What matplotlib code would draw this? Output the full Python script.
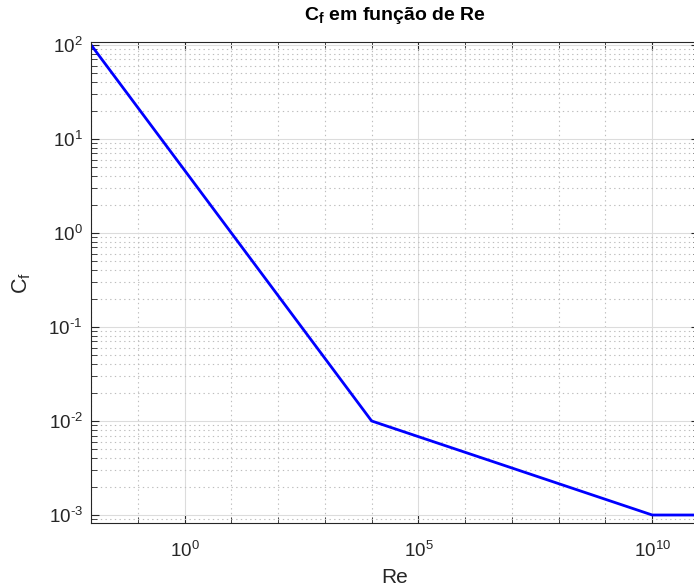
import matplotlib
matplotlib.use("Agg")
import matplotlib.pyplot as plt
import numpy as np
from matplotlib.ticker import FixedLocator, LogLocator, NullFormatter, FuncFormatter

plt.rcParams['font.family'] = ['Liberation Sans', 'DejaVu Sans']
plt.rcParams['mathtext.fontset'] = 'custom'
plt.rcParams['mathtext.rm'] = 'Liberation Sans'
plt.rcParams['mathtext.it'] = 'Liberation Sans'
plt.rcParams['mathtext.bf'] = 'Liberation Sans:bold'
plt.rcParams['mathtext.default'] = 'regular'
plt.rcParams['axes.unicode_minus'] = False

# Piecewise skin-friction coefficient vs Reynolds number (breakpoints)
re_values = [1e-2, 1e4, 1e10, 1e11]
cf_values = [1e2, 1e-2, 1e-3, 1e-3]

x_limits = (1e-2, 1e11)
y_limits = (10 ** -3.085, 10 ** 2.03)
x_major = [1e0, 1e5, 1e10]
x_minor = [10.0 ** k for k in range(-2, 12) if k not in (0, 5, 10)]


def power_label(value, _pos):
    exp = int(round(np.log10(value)))
    sign = r'\text{-}' if exp < 0 else ''
    return r'$10^{%s%d}$' % (sign, abs(exp))


W, H = 694, 587
fig = plt.figure(figsize=(W / 100, H / 100), dpi=100)
ax = fig.add_axes([91 / W, (H - 523) / H, 608 / W, 481 / H])

ax.plot(re_values, cf_values, color=(0, 0, 1), linewidth=2.0, solid_joinstyle='miter')
ax.set_xscale('log')
ax.set_yscale('log')
ax.set_xlim(*x_limits)
ax.set_ylim(*y_limits)

ax.xaxis.set_major_locator(FixedLocator(x_major))
ax.xaxis.set_minor_locator(FixedLocator(x_minor))
ax.xaxis.set_major_formatter(FuncFormatter(power_label))
ax.xaxis.set_minor_formatter(NullFormatter())
ax.yaxis.set_major_locator(LogLocator(base=10, numticks=20))
ax.yaxis.set_minor_locator(LogLocator(base=10, subs=range(2, 10), numticks=20))
ax.yaxis.set_major_formatter(FuncFormatter(power_label))
ax.yaxis.set_minor_formatter(NullFormatter())

axis_color = '#262626'
for side in ('left', 'bottom', 'top', 'right'):
    ax.spines[side].set_color(axis_color)
    ax.spines[side].set_linewidth(0.8)

ax.tick_params(which='both', direction='in', top=True, right=True,
               color=axis_color, labelcolor=axis_color)
ax.tick_params(which='major', length=6, width=0.8, labelsize=13.5)
ax.tick_params(which='minor', length=4, width=0.6)
ax.tick_params(axis='x', which='major', pad=13)
ax.tick_params(axis='y', which='major', pad=6)

ax.grid(True, which='major', color='#dcdcdc', linewidth=0.8, linestyle='-')
ax.grid(True, which='minor', color='#bdbdbd', linewidth=0.8, linestyle=(0, (1.2, 3)))
ax.set_axisbelow(True)

ax.set_title(r'$\mathbf{C}_{\mathbf{f}}$ em função de Re', fontsize=14,
             fontweight='bold', color='black', pad=15.5)
ax.set_xlabel('Re', fontsize=15, color=axis_color, labelpad=5)
ax.set_ylabel(r'C$_{\mathrm{f}}$', fontsize=15.5, color=axis_color, labelpad=11)

fig.savefig('out.png', dpi=100)
